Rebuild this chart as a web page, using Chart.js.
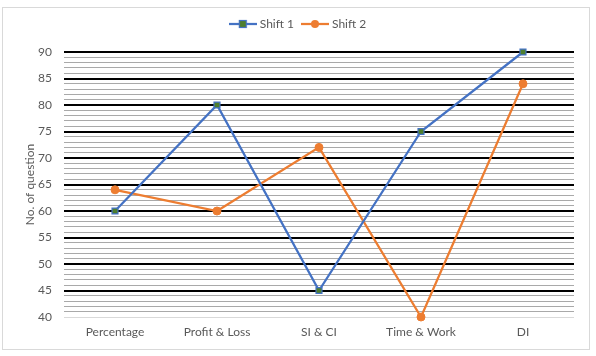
<!DOCTYPE html>
<html>
<head>
<meta charset="utf-8">
<script src="https://cdn.jsdelivr.net/npm/chart.js@4/dist/chart.umd.min.js"></script>
<style>
  html, body { margin: 0; padding: 0; background: #ffffff; }
  #wrap { position: relative; width: 596px; height: 356px; }
  #frame { position: absolute; left: 2px; top: 7px; width: 586px; height: 341px; border: 1px solid #D9D9D9; }
  #c { position: absolute; left: 0; top: 0; }
</style>
</head>
<body>
<div id="wrap">
  <div id="frame"></div>
  <canvas id="c" width="596" height="356"></canvas>
</div>
<script>
const categories = ['Percentage', 'Profit & Loss', 'SI & CI', 'Time & Work', 'DI'];
const shift1 = [60, 80, 45, 75, 90];
const shift2 = [64, 60, 72, 40, 84];
const tickLabels = [40, 45, 50, 55, 60, 65, 70, 75, 80, 85, 90];
const seriesNames = ['Shift 1', 'Shift 2'];

const BLUE = '#4472C4';
const ORANGE = '#ED7D31';
const GREEN = '#4F7F2E';
const TEXT = '#595959';
const FONT = 'Lato, "Open Sans", sans-serif';

function legendIcon(lineColor, shape, fill) {
  const cv = document.createElement('canvas');
  cv.width = 28; cv.height = 10;
  const g = cv.getContext('2d');
  g.strokeStyle = lineColor; g.lineWidth = 2.25;
  g.beginPath(); g.moveTo(0, 5); g.lineTo(28, 5); g.stroke();
  if (shape === 'rect') {
    g.fillStyle = fill; g.fillRect(10.5, 1.5, 7, 7);
    g.strokeStyle = lineColor; g.lineWidth = 1.2; g.strokeRect(10.5, 1.5, 7, 7);
  } else {
    g.fillStyle = fill; g.beginPath(); g.arc(14, 5, 4, 0, Math.PI * 2); g.fill();
  }
  return cv;
}
const icons = [legendIcon(BLUE, 'rect', GREEN), legendIcon(ORANGE, 'circle', ORANGE)];

const legendSize = {
  id: 'legendSize',
  beforeLayout(chart) {
    const lg = chart.legend;
    if (lg && !lg._patched) {
      const orig = lg.fit;
      lg.fit = function () { orig.call(this); this.height = 44; };
      lg._patched = true;
    }
  },
  afterLayout(chart) {
    const lg = chart.legend;
    if (lg) { lg.left += 12; lg.right += 12; }
  }
};

new Chart(document.getElementById('c'), {
  type: 'line',
  data: {
    labels: categories,
    datasets: [
      {
        label: seriesNames[0], data: shift1, clip: false,
        borderColor: BLUE, borderWidth: 2.25, backgroundColor: GREEN,
        pointStyle: 'rect', pointRadius: 4.2, pointBorderColor: BLUE, pointBorderWidth: 1.2,
        pointBackgroundColor: GREEN, tension: 0
      },
      {
        label: seriesNames[1], data: shift2, clip: false,
        borderColor: ORANGE, borderWidth: 2.25, backgroundColor: ORANGE,
        pointStyle: 'circle', pointRadius: 4, pointBorderColor: ORANGE, pointBorderWidth: 1,
        pointBackgroundColor: ORANGE, tension: 0
      }
    ]
  },
  options: {
    responsive: false,
    animation: false,
    layout: { padding: { top: 8, right: 22, bottom: 0, left: 0 } },
    plugins: {
      legend: {
        position: 'top',
        labels: {
          usePointStyle: true,
          pointStyleWidth: 22,
          boxHeight: 12,
          padding: 10,
          color: TEXT,
          font: { family: FONT, size: 12 },
          generateLabels(chart) {
            return chart.data.datasets.map((ds, i) => ({
              text: ds.label, pointStyle: icons[i], fillStyle: 'transparent',
              strokeStyle: 'transparent', lineWidth: 0, fontColor: TEXT, datasetIndex: i, hidden: false
            }));
          }
        }
      },
      tooltip: { enabled: false }
    },
    scales: {
      x: {
        type: 'category',
        offset: true,
        grid: { display: false },
        border: { display: false },
        ticks: { color: TEXT, font: { family: FONT, size: 12 }, padding: 0, maxRotation: 0 },
        afterFit(scale) { scale.height = 39; }
      },
      y: {
        min: 40, max: 90,
        border: { display: false },
        grid: {
          drawTicks: false,
          color(ctx) {
            const v = ctx.tick.value;
            if (v === 40) return '#D9D9D9';
            return tickLabels.includes(v) ? '#000000' : '#A9A9A9';
          },
          lineWidth(ctx) {
            const v = ctx.tick.value;
            if (v === 40) return 1;
            return tickLabels.includes(v) ? 2 : 1;
          }
        },
        ticks: {
          stepSize: 1, autoSkip: false, padding: 12,
          color: TEXT, font: { family: FONT, size: 12 },
          callback(v) { return tickLabels.includes(v) ? String(v) : ''; }
        },
        title: {
          display: true, text: 'No. of question', color: TEXT,
          font: { family: FONT, size: 12 }, padding: { top: 23, bottom: 0 }
        },
        afterFit(scale) { scale.width = 64; }
      }
    }
  },
  plugins: [legendSize]
});
</script>
</body>
</html>
